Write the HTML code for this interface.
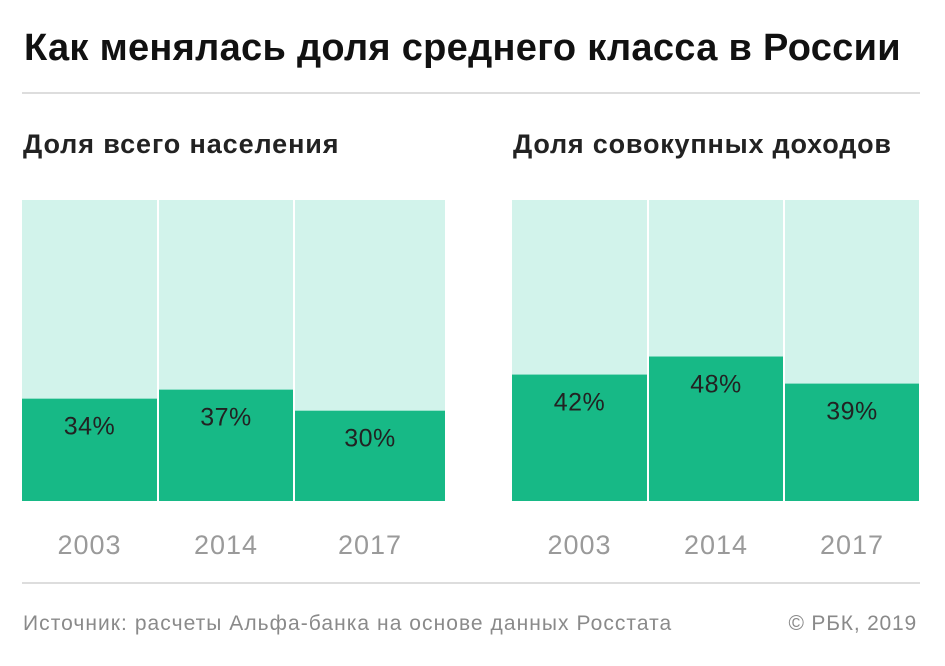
<!DOCTYPE html>
<html><head><meta charset="utf-8"><style>
body{margin:0;background:#fff;font-family:"Liberation Sans",sans-serif;}
#wrap{position:relative;width:945px;height:666px;overflow:hidden;}
.t{position:absolute;white-space:nowrap;}
</style></head><body>
<div id="wrap">
<div class="t" style="left:24px;top:27px;font-size:38px;font-weight:bold;color:#111;letter-spacing:0.3px">Как менялась доля среднего класса в России</div>
<div style="position:absolute;left:22px;top:92px;width:898px;height:2px;background:#ddd"></div>
<div class="t" style="left:23px;top:129px;font-size:27px;font-weight:bold;color:#222;letter-spacing:0.9px">Доля всего населения</div>
<div class="t" style="left:513px;top:129px;font-size:27px;font-weight:bold;color:#222;letter-spacing:0.8px">Доля совокупных доходов</div>
<svg id="chart" width="945" height="666" style="position:absolute;left:0;top:0"></svg>
<div style="position:absolute;left:22px;top:582px;width:898px;height:2px;background:#ddd"></div>
<div class="t" style="left:23px;top:612px;font-size:21px;color:#8a8a8a;letter-spacing:1.05px">Источник: расчеты Альфа-банка на основе данных Росстата</div>
<div class="t" style="right:28px;top:612px;font-size:21px;color:#8a8a8a;letter-spacing:0.8px">© РБК, 2019</div>
</div>
<script>
const years = ["2003","2014","2017"];
const populationShare = [34,37,30];
const incomeShare = [42,48,39];
const NS="http://www.w3.org/2000/svg";
const svg=document.getElementById('chart');
const top0=200, bot=501;
function y(v){return bot-(bot-top0)*v/100;}
function panel(x0,widths,vals,prefix){
  let x=x0;
  vals.forEach((v,i)=>{
    const w=widths[i];
    const bg=document.createElementNS(NS,'rect');
    bg.setAttribute('x',x);bg.setAttribute('y',top0);bg.setAttribute('width',w);bg.setAttribute('height',bot-top0);bg.setAttribute('fill','#d2f3eb');
    
    
    svg.appendChild(bg);
    const r=document.createElementNS(NS,'rect');
    r.setAttribute('x',x);r.setAttribute('y',y(v));r.setAttribute('width',w);r.setAttribute('height',bot-y(v));r.setAttribute('fill','#17b986');
    
    
    svg.appendChild(r);
    const t=document.createElementNS(NS,'text');
    t.setAttribute('x',x+w/2);t.setAttribute('y',y(v)+36);t.setAttribute('text-anchor','middle');t.setAttribute('font-size','25');t.setAttribute('fill','#222');t.setAttribute('font-family','Liberation Sans, sans-serif');t.setAttribute('letter-spacing','0.5');
    t.textContent=v+'%';
    
    
    svg.appendChild(t);
    const yl=document.createElementNS(NS,'text');
    yl.setAttribute('x',x+w/2);yl.setAttribute('y',554);yl.setAttribute('text-anchor','middle');yl.setAttribute('font-size','27');yl.setAttribute('fill','#9a9a9a');yl.setAttribute('font-family','Liberation Sans, sans-serif');yl.setAttribute('letter-spacing','1');
    yl.textContent=years[i];
    
    
    svg.appendChild(yl);
    x+=w+2;
  });
}
panel(22,[135,134,150],populationShare,'population');
panel(512,[135,134,134],incomeShare,'income');
</script>
</body></html>
